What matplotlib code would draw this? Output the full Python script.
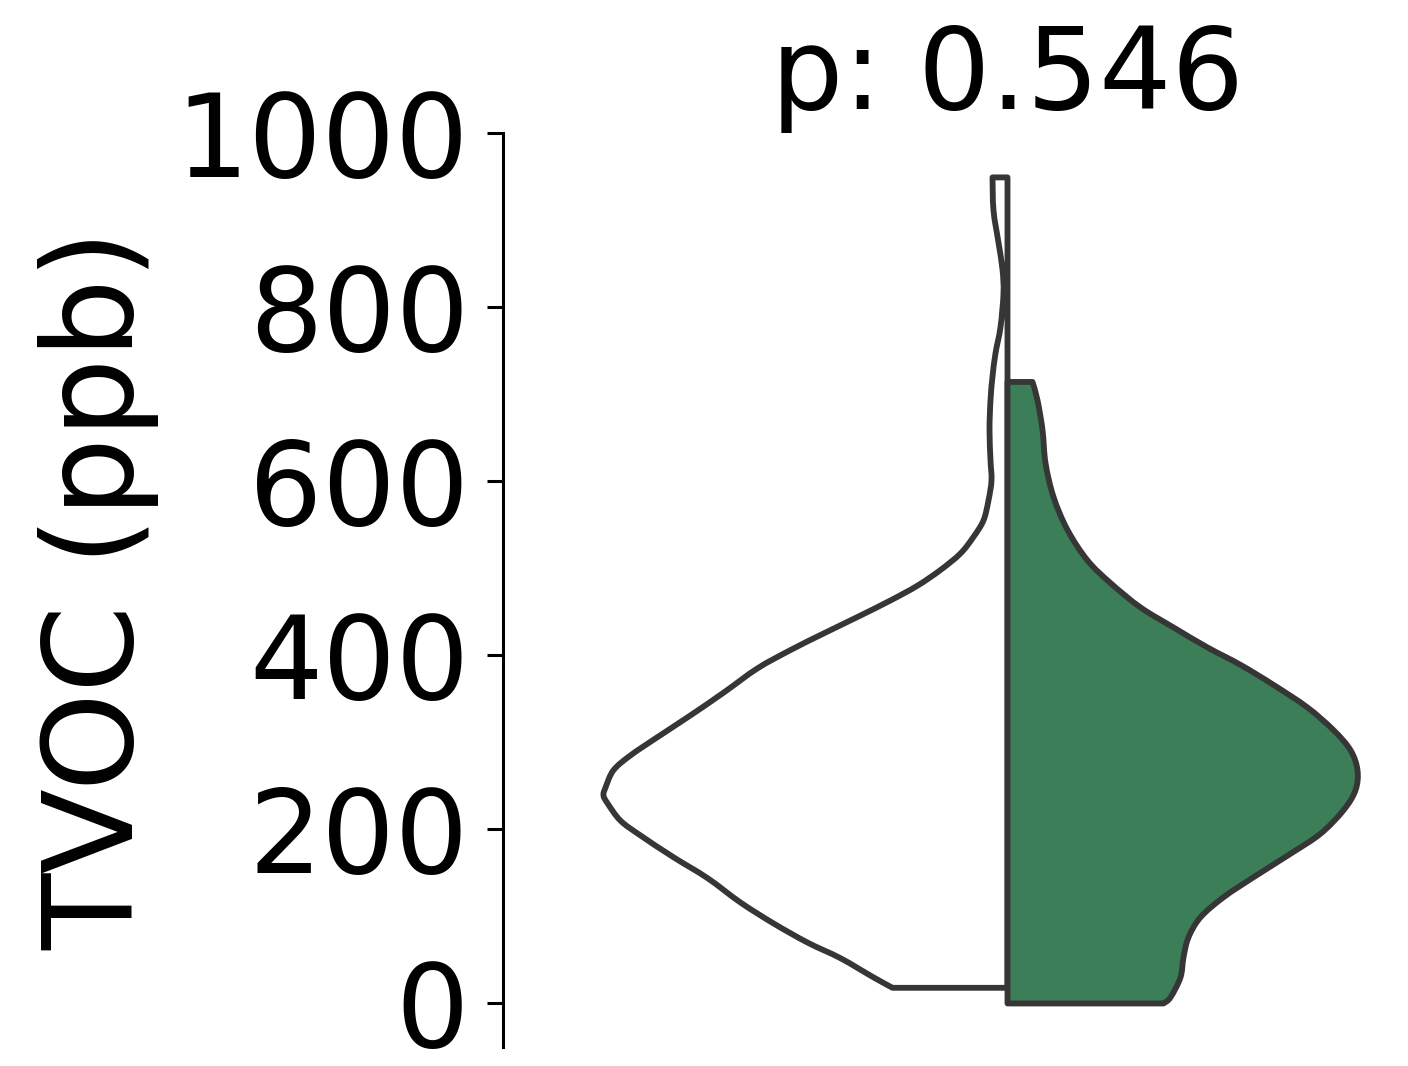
import numpy as np
import matplotlib
matplotlib.use("Agg")
import matplotlib.pyplot as plt
from matplotlib.path import Path
from matplotlib.patches import PathPatch

# values
# left half (white): tvoc level and half width of the density outline
left_y = [949, 911, 874, 843, 816, 777, 747, 720, 693, 659, 624, 601, 578, 555,
          536, 517, 498, 480, 463, 444, 425, 406, 385, 357, 331, 306, 285, 268,
          248, 239, 230, 210, 193, 168, 144, 116, 92, 70, 52, 30, 18]
left_w = [15, 14, 9, 5, 4, 7, 12, 15, 17, 18, 17, 16, 19, 24,
          34, 47, 67, 90, 117, 150, 184, 217, 250, 284, 317, 350, 377, 394,
          402, 404, 400, 387, 367, 334, 300, 267, 234, 200, 167, 134, 115]

# right half (green)
right_y = [714, 693, 659, 621, 582, 544, 509, 483, 455, 432, 409, 389, 366, 340,
           314, 291, 268, 245, 222, 195, 172, 145, 122, 99, 76, 53, 30, 7, 0]
right_w = [25, 30, 35, 38, 46, 60, 80, 103, 133, 166, 200, 233, 266, 300,
           326, 343, 350, 348, 336, 313, 283, 246, 216, 193, 181, 176, 173, 163, 156]

p_value = 0.546
y_ticks = [0, 200, 400, 600, 800, 1000]

W, H = 1408, 1066
fig = plt.figure(figsize=(W / 100, H / 100), dpi=100)
# axes runs past the right edge so that the violin sits where it does
ax = fig.add_axes([503 / W, (H - 1047) / H, 1009 / W, (1047 - 133) / H])

edge = "#363636"
lw = 4.2
scale = 1.0 / 1009  # width units -> axes data units


def half_violin(ys, ws, side, color):
    # outline through the read points as a smooth bezier (catmull-rom),
    # closed along the centre line
    pts = np.column_stack([side * np.array(ws, dtype=float) * scale,
                           np.array(ys, dtype=float)])
    verts = [(0, pts[0, 1]), tuple(pts[0])]
    codes = [Path.MOVETO, Path.LINETO]
    n = len(pts)
    for i in range(n - 1):
        p0 = pts[max(i - 1, 0)]
        p1 = pts[i]
        p2 = pts[i + 1]
        p3 = pts[min(i + 2, n - 1)]
        verts += [tuple(p1 + (p2 - p0) / 6), tuple(p2 - (p3 - p1) / 6), tuple(p2)]
        codes += [Path.CURVE4] * 3
    verts += [(0, pts[-1, 1]), (0, pts[0, 1])]
    codes += [Path.LINETO, Path.CLOSEPOLY]
    patch = PathPatch(Path(verts, codes), facecolor=color, edgecolor=edge,
                      linewidth=lw, joinstyle="round", zorder=2)
    ax.add_patch(patch)


half_violin(left_y, left_w, -1, "white")
half_violin(right_y, right_w, 1, "#3b7e57")

ax.set_xlim(-0.5, 0.5)
ax.set_ylim(-50, 1000)
ax.set_yticks(y_ticks)
ax.set_xticks([])

for s in ["top", "right", "bottom"]:
    ax.spines[s].set_visible(False)
ax.spines["left"].set_linewidth(2.2)

ax.tick_params(axis="y", labelsize=83, length=11.5, width=2.2, pad=13)
ax.set_ylabel("TVOC (ppb)", fontsize=90, labelpad=12)
ax.set_title("p: %.3f" % p_value, fontsize=82, pad=15, x=0.5)

fig.savefig("out.png", dpi=100)
